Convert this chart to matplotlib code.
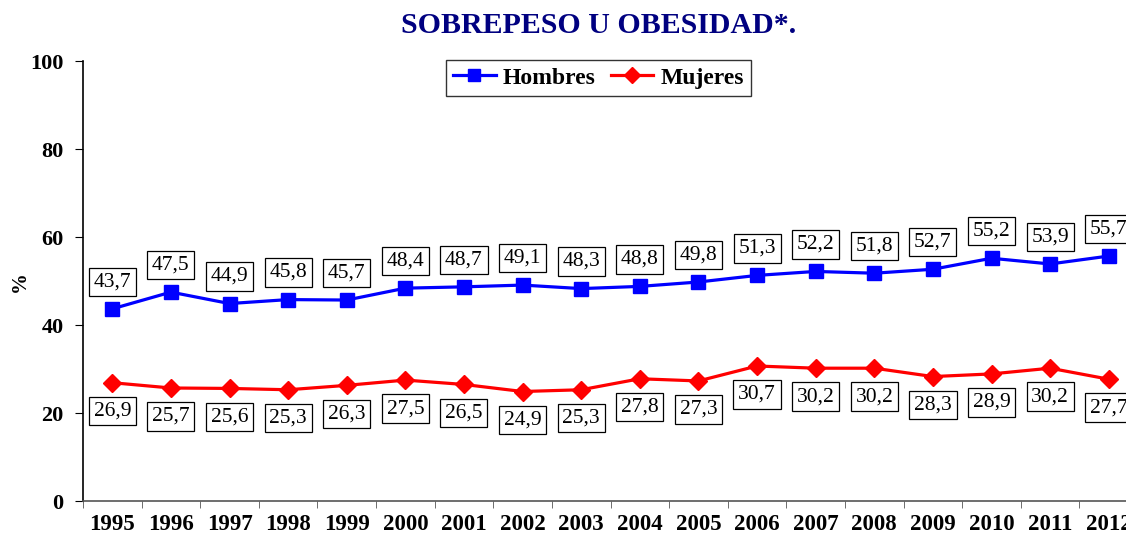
import numpy as np
import matplotlib
matplotlib.use("Agg")
from matplotlib import pyplot as plt

YEARS = [str(y) for y in range(1995, 2013)]
HOMBRES = [43.7, 47.5, 44.9, 45.8, 45.7, 48.4, 48.7, 49.1, 48.3,
           48.8, 49.8, 51.3, 52.2, 51.8, 52.7, 55.2, 53.9, 55.7]
MUJERES = [26.9, 25.7, 25.6, 25.3, 26.3, 27.5, 26.5, 24.9, 25.3,
           27.8, 27.3, 30.7, 30.2, 30.2, 28.3, 28.9, 30.2, 27.7]

SERIF = ["Liberation Serif", "DejaVu Serif"]
plt.rcParams["font.family"] = SERIF

fig = plt.figure(figsize=(11.26, 5.37), dpi=100)
# axes runs a bit past the right edge, like the cropped original
ax = fig.add_axes([0.0737, 0.067, 0.937, 0.819])

x = np.arange(len(YEARS))
ax.plot(x, HOMBRES, color="#0000FF", lw=2.3, marker="s", ms=10, label="Hombres")
ax.plot(x, MUJERES, color="#FF0000", lw=2.3, marker="D", ms=9, label="Mujeres")

box = dict(boxstyle="square,pad=0.22", fc="white", ec="black", lw=0.9)
for i, v in enumerate(HOMBRES):
    ax.annotate(f"{v:.1f}".replace(".", ","), (i, v), xytext=(0, 19.5),
                textcoords="offset points", ha="center", va="center",
                fontsize=15.5, bbox=box)
for i, v in enumerate(MUJERES):
    ax.annotate(f"{v:.1f}".replace(".", ","), (i, v), xytext=(0, -20.5),
                textcoords="offset points", ha="center", va="center",
                fontsize=15.5, bbox=box)

ax.set_xlim(-0.5, len(YEARS) - 0.5)
ax.set_ylim(0, 100)
ax.set_yticks([0, 20, 40, 60, 80, 100])
ax.set_xticks(x)
ax.set_xticklabels(YEARS, fontsize=16.5, fontweight="bold")
ax.set_xticks(np.arange(-0.5, len(YEARS)), minor=True)
ax.tick_params(axis="x", which="major", length=0, pad=9.5)
ax.tick_params(axis="x", which="minor", length=5, direction="out", color="#555555")
ax.tick_params(axis="y", length=6, direction="out", labelsize=16, pad=8)
for lab in ax.get_yticklabels():
    lab.set_fontweight("bold")

for s in ("top", "right"):
    ax.spines[s].set_visible(False)
ax.spines["bottom"].set_color("#555555")
ax.spines["bottom"].set_linewidth(1.2)
ax.spines["left"].set_linewidth(1.2)

ax.set_ylabel("%", fontsize=15, fontweight="bold")
ax.yaxis.set_label_coords(-0.05, 0.5)

leg = ax.legend(loc="upper center", bbox_to_anchor=(598.5 / 1126, 1 - 60 / 537),
                bbox_transform=fig.transFigure, ncol=2, frameon=True,
                fancybox=False, edgecolor="black", handlelength=1.8,
                columnspacing=0.65, borderpad=0.3, handletextpad=0.3,
                borderaxespad=0, markerscale=0.85,
                prop=dict(family=SERIF, weight="bold", size=17))
leg.get_frame().set_linewidth(1.0)

fig.text(599 / 1126, 1 - 33 / 537, "SOBREPESO U OBESIDAD*.", ha="center", va="baseline",
         fontsize=21.5, fontweight="bold", color="#000080")

fig.savefig("out.png", dpi=100)
